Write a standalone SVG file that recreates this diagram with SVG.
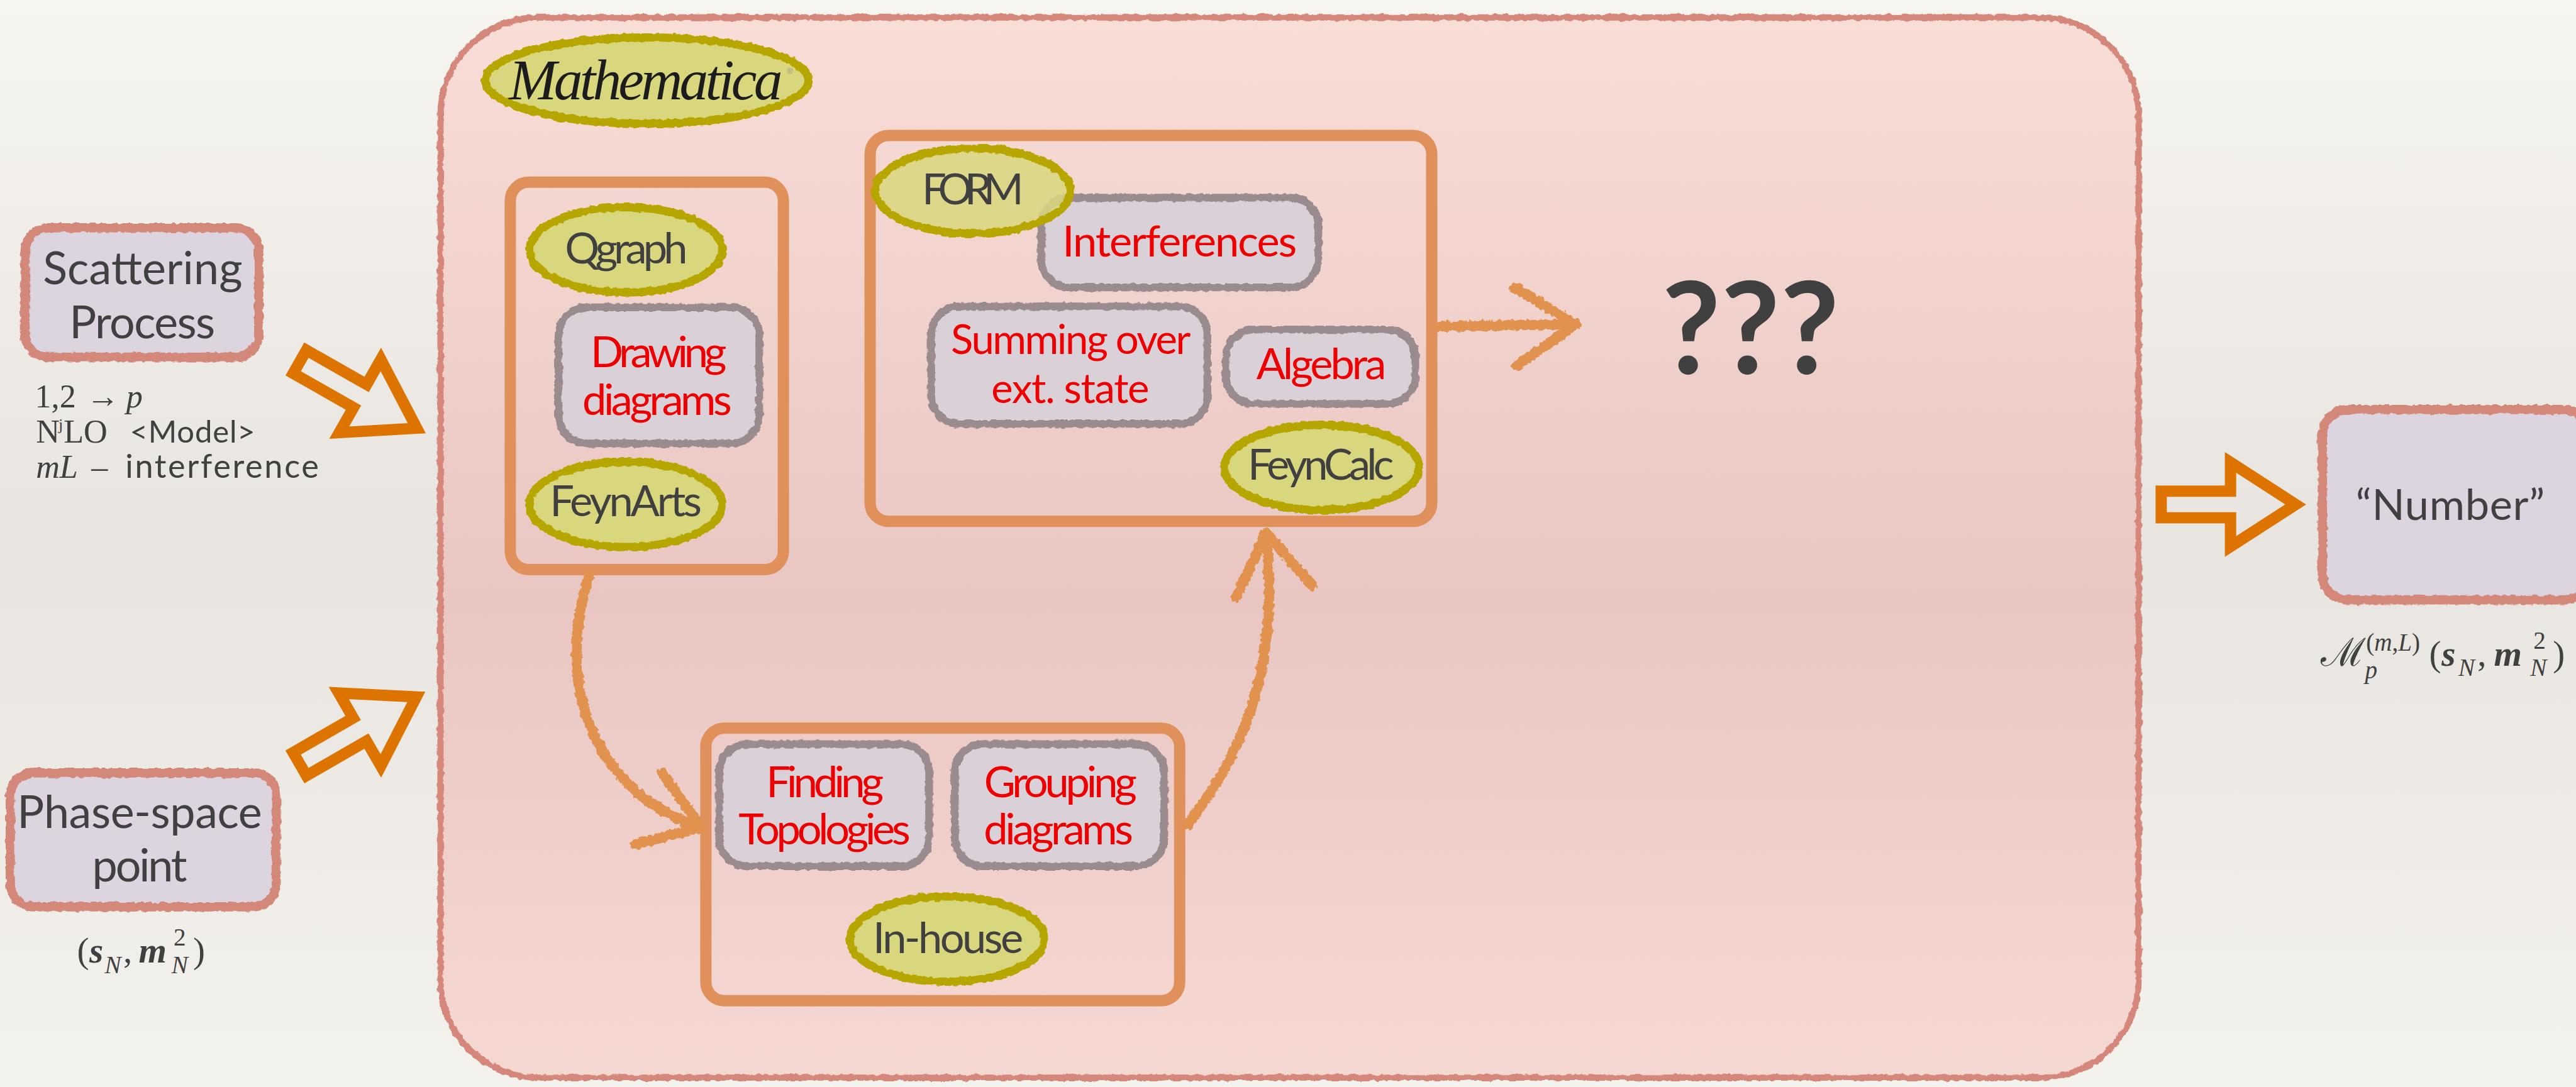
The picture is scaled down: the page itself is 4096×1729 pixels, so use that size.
<svg xmlns="http://www.w3.org/2000/svg" width="4096" height="1729" viewBox="0 0 4096 1729">
<defs>
<linearGradient id="paper" x1="0" y1="0" x2="0" y2="1">
<stop offset="0" stop-color="#f7f5f0"/><stop offset="0.5" stop-color="#e8e4df"/><stop offset="1" stop-color="#f4f2ec"/>
</linearGradient>
<linearGradient id="pink" x1="0" y1="0" x2="0" y2="1">
<stop offset="0" stop-color="#f9ddd7"/><stop offset="0.55" stop-color="#e9c6c2"/><stop offset="1" stop-color="#f6d8d2"/>
</linearGradient>
<filter id="rough" x="-5%" y="-5%" width="110%" height="110%">
<feTurbulence type="fractalNoise" baseFrequency="0.09" numOctaves="2" seed="4" result="n"/>
<feDisplacementMap in="SourceGraphic" in2="n" scale="8" xChannelSelector="R" yChannelSelector="G"/>
</filter>
<filter id="chalk" x="-10%" y="-10%" width="120%" height="120%">
<feTurbulence type="fractalNoise" baseFrequency="0.12" numOctaves="2" seed="7" result="n"/>
<feDisplacementMap in="SourceGraphic" in2="n" scale="10" xChannelSelector="R" yChannelSelector="G"/>
</filter>
<path id="hollow" d="M0,-26 H135 V-82 L262,0 L135,82 V26 H0 Z"/>
<style>
.outer{fill:#dcd4df;stroke:#d4887a;stroke-width:18;filter:url(#rough)}
.gray{fill:#d9d0d8;stroke:#9a8b8f;stroke-width:15;filter:url(#rough)}
.ell{fill:#d9d77e;stroke:#b8a600;stroke-width:16;filter:url(#rough)}
.obox{fill:none;stroke:#e0905a;stroke-width:22}
.lbl{font-family:Lato,"Liberation Sans",sans-serif;font-size:84px;fill:#404040;text-anchor:middle}
.red{fill:#ee0000}
.big{font-size:88px}
.sm{font-size:80px}
.qq{font-size:250px;font-weight:bold}
.math{font-family:"Liberation Serif","DejaVu Serif",serif;font-size:64px;fill:#404040}
.sans{font-family:Lato,"Liberation Sans",sans-serif}
.harrow{fill:none;stroke:#de7400;stroke-width:22;stroke-linejoin:miter}
.carrow{fill:none;stroke:#e2924f;stroke-width:20;stroke-linecap:round;stroke-linejoin:round;filter:url(#chalk)}
</style>
</defs>
<g transform="scale(0.81626)">
<rect x="0" y="0" width="5018" height="2118" fill="url(#paper)"/>

<g id="node-main">
<rect x="858" y="34" width="3308" height="2066" rx="190" fill="url(#pink)" stroke="#d5877b" stroke-width="12" filter="url(#rough)"/>
</g>

<g id="node-scattering">
<rect class="outer" x="49" y="444" width="455" height="252" rx="45"/>
<text class="lbl big" x="278" y="554" textLength="389">Scattering</text>
<text class="lbl big" x="277" y="659" textLength="284">Process</text>
<text class="math">
<tspan x="68" y="794">1,2</tspan><tspan x="168" y="794">→</tspan><tspan x="246" y="794" font-style="italic">p</tspan>
<tspan x="70" y="863">N</tspan><tspan x="114" y="838" font-size="32">j</tspan><tspan x="124" y="863">LO</tspan><tspan class="sans" x="253" y="863" font-size="60" textLength="244">&lt;Model&gt;</tspan>
<tspan x="70" y="931" font-style="italic">mL</tspan><tspan x="178" y="931">–</tspan><tspan class="sans" x="244" y="931" textLength="377">interference</tspan>
</text>
</g>

<g id="node-phase">
<rect class="outer" x="20" y="1506" width="518" height="261" rx="45"/>
<text class="lbl big" x="272" y="1614" textLength="477">Phase-space</text>
<text class="lbl big" x="272" y="1718" textLength="185">point</text>
<text class="math" style="font-size:70px"><tspan x="150" y="1876">(</tspan><tspan x="174" y="1876" font-weight="bold" font-style="italic">s</tspan><tspan x="204" y="1896" font-size="48" font-style="italic">N</tspan><tspan x="240" y="1876">,</tspan><tspan x="270" y="1876" font-weight="bold" font-style="italic">m</tspan><tspan x="338" y="1843" font-size="48">2</tspan><tspan x="334" y="1896" font-size="48" font-style="italic">N</tspan><tspan x="376" y="1876">)</tspan></text>
</g>

<g id="node-mathematica">
<ellipse class="ell" cx="1260" cy="157" rx="315" ry="84"/>
<text x="1258" y="194" font-family="'Liberation Serif',serif" font-style="italic" font-size="112" fill="#1c1c1c" text-anchor="middle" textLength="533">Mathematica</text>
<text x="1533" y="145" font-family="'Liberation Sans',sans-serif" font-size="16" fill="#9a9580">®</text>
</g>

<g id="node-left-box">
<rect class="obox" x="994" y="355" width="532" height="755" rx="36"/>
</g>
<g id="node-top-box">
<rect class="obox" x="1695" y="264" width="1094" height="752" rx="36"/>
</g>
<g id="node-bottom-box">
<rect class="obox" x="1375" y="1419" width="923" height="531" rx="36"/>
</g>

<g id="node-qgraph">
<ellipse class="ell" cx="1219" cy="487" rx="188" ry="83"/>
<text class="lbl" x="1220" y="513" textLength="239">Qgraph</text>
</g>
<g id="node-drawing">
<rect class="gray" x="1088" y="599" width="391" height="265" rx="55"/>
<text class="lbl red" x="1283" y="716" textLength="265">Drawing</text>
<text class="lbl red" x="1280" y="808" textLength="291">diagrams</text>
</g>
<g id="node-feynarts">
<ellipse class="ell" cx="1219" cy="983" rx="188" ry="83"/>
<text class="lbl" x="1219" y="1006" textLength="296">FeynArts</text>
</g>

<g id="node-interferences">
<rect class="gray" x="2028" y="385" width="540" height="175" rx="55"/>
<text class="lbl red" x="2298" y="500" textLength="457">Interferences</text>
</g>
<g id="node-form">
<ellipse class="ell" cx="1895" cy="372" rx="190" ry="83" fill-opacity="0.85"/>
<text class="lbl" x="1895" y="398" textLength="198">FORM</text>
</g>
<g id="node-summing">
<rect class="gray" x="1814" y="597" width="538" height="229" rx="55"/>
<text class="lbl red sm" x="2086" y="690" textLength="467">Summing over</text>
<text class="lbl red sm" x="2085" y="785" textLength="308">ext. state</text>
</g>
<g id="node-algebra">
<rect class="gray" x="2388" y="642" width="369" height="145" rx="55"/>
<text class="lbl red" x="2574" y="739" textLength="253">Algebra</text>
</g>
<g id="node-feyncalc">
<ellipse class="ell" cx="2575" cy="911" rx="190" ry="83"/>
<text class="lbl" x="2573" y="935" textLength="285">FeynCalc</text>
</g>

<g id="node-finding">
<rect class="gray" x="1401" y="1450" width="409" height="238" rx="55"/>
<text class="lbl red" x="1607" y="1553" textLength="229">Finding</text>
<text class="lbl red" x="1606" y="1645" textLength="335">Topologies</text>
</g>
<g id="node-grouping">
<rect class="gray" x="1860" y="1450" width="408" height="238" rx="55"/>
<text class="lbl red" x="2066" y="1553" textLength="298">Grouping</text>
<text class="lbl red" x="2062" y="1645" textLength="291">diagrams</text>
</g>
<g id="node-inhouse">
<ellipse class="ell" cx="1845" cy="1830" rx="190" ry="83"/>
<text class="lbl" x="1847" y="1857" textLength="293">In-house</text>
</g>

<g id="node-unknown">
<text class="lbl qq" x="3410" y="729" textLength="346">???</text>
</g>

<g id="node-number">
<rect class="outer" x="4524" y="798" width="520" height="371" rx="50"/>
<text class="lbl" x="4773" y="1013" textLength="368">“Number”</text>
<text class="math" style="font-size:70px"><tspan x="4521" y="1297" font-size="76">ℳ</tspan><tspan x="4607" y="1322" font-size="48" font-style="italic">p</tspan><tspan x="4609" y="1268" font-size="48">(</tspan><tspan font-size="48" font-style="italic">m</tspan><tspan font-size="48">,</tspan><tspan font-size="48" font-style="italic">L</tspan><tspan font-size="48">)</tspan><tspan x="4732" y="1297">(</tspan><tspan x="4756" y="1297" font-weight="bold" font-style="italic">s</tspan><tspan x="4789" y="1317" font-size="48" font-style="italic">N</tspan><tspan x="4826" y="1297">,</tspan><tspan x="4858" y="1297" font-weight="bold" font-style="italic">m</tspan><tspan x="4935" y="1264" font-size="48">2</tspan><tspan x="4929" y="1317" font-size="48" font-style="italic">N</tspan><tspan x="4973" y="1297">)</tspan></text>
</g>

<g id="connectors">
<use href="#hollow" class="harrow" transform="translate(584,705) rotate(29.6)"/>
<use href="#hollow" class="harrow" transform="translate(584,1489) rotate(-30)"/>
<use href="#hollow" class="harrow" transform="translate(4210,983)"/>
<path class="carrow" d="M1148,1120 C1080,1330 1150,1535 1360,1612 M1290,1506 L1365,1612 L1236,1646"/>
<path class="carrow" d="M2313,1607 C2420,1470 2495,1300 2466,1042 M2408,1164 L2466,1038 L2556,1141"/>
<path class="carrow" d="M2802,636 L3066,632 M2950,560 L3070,632 L2955,712"/>
</g>
</g>
</svg>
